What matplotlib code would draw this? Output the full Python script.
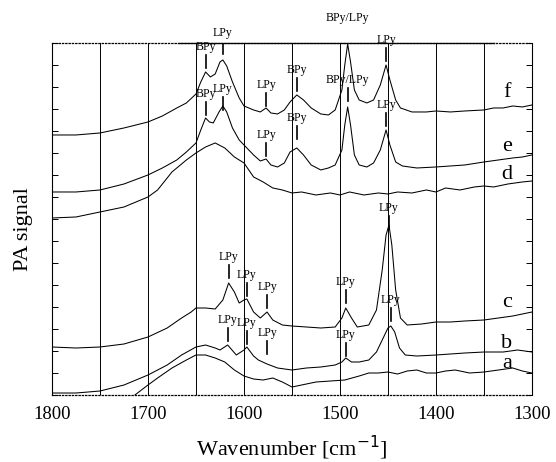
import matplotlib
matplotlib.use("Agg")
import matplotlib.pyplot as plt
import numpy as np

plt.rcParams['font.family'] = ['Liberation Serif', 'DejaVu Serif']

# spectra, wavenumber [cm-1] and PA signal (arbitrary units, offset traces)
wn_f = [1800, 1775, 1750, 1725, 1700, 1685, 1670, 1660, 1650, 1645, 1640, 1635, 1630, 1625, 1622,
        1618, 1612, 1605, 1600, 1590, 1583, 1577, 1572, 1565, 1558, 1552, 1545, 1538, 1530, 1520,
        1512, 1505, 1498, 1495, 1492, 1489, 1485, 1480, 1472, 1465, 1458, 1452, 1448, 1442, 1437,
        1425, 1410, 1400, 1385, 1370, 1350, 1340, 1330, 1320, 1310, 1300]
sig_f = [260, 260, 262, 267, 273, 279, 287, 292, 301, 313, 323, 318, 321, 333, 335,
         329, 313, 297, 289, 285, 283, 287, 282, 281, 285, 293, 300, 295, 287, 281,
         280, 285, 305, 330, 351, 333, 305, 295, 292, 295, 310, 330, 315, 295, 287,
         283, 283, 284, 283, 284, 285, 287, 287, 289, 288, 290]

wn_e = [1800, 1775, 1750, 1725, 1700, 1685, 1670, 1660, 1650, 1645, 1640, 1636, 1632, 1626, 1622,
        1618, 1612, 1605, 1600, 1590, 1583, 1577, 1572, 1565, 1558, 1552, 1545, 1538, 1530, 1520,
        1512, 1505, 1498, 1495, 1492, 1489, 1485, 1480, 1472, 1465, 1458, 1452, 1448, 1442, 1435,
        1420, 1400, 1385, 1370, 1350, 1335, 1320, 1310, 1300]
sig_e = [203, 203, 205, 211, 220, 227, 235, 243, 252, 265, 277, 273, 272, 283, 289,
         283, 267, 255, 250, 240, 234, 236, 230, 228, 232, 243, 247, 240, 230, 225,
         227, 230, 245, 270, 288, 270, 240, 230, 228, 232, 245, 265, 250, 233, 229,
         227, 228, 229, 230, 233, 235, 237, 238, 240]

wn_d = [1800, 1775, 1750, 1725, 1700, 1690, 1675, 1660, 1650, 1640, 1630, 1620, 1610, 1600, 1595,
        1590, 1580, 1570, 1560, 1550, 1540, 1525, 1510, 1500, 1490, 1475, 1460, 1450, 1440, 1425,
        1410, 1400, 1390, 1375, 1360, 1350, 1340, 1325, 1310, 1300]
sig_d = [177, 178, 183, 188, 198, 205, 223, 235, 242, 248, 252, 247, 238, 232, 225,
         218, 213, 207, 205, 202, 203, 200, 202, 200, 203, 200, 202, 201, 203, 202,
         205, 203, 207, 205, 208, 209, 208, 211, 213, 214]

wn_c = [1800, 1775, 1750, 1725, 1700, 1680, 1665, 1655, 1650, 1640, 1630, 1622, 1616, 1610, 1605,
        1600, 1597, 1590, 1583, 1576, 1570, 1560, 1550, 1535, 1520, 1505, 1498, 1494, 1488, 1482,
        1470, 1462, 1456, 1452, 1449, 1446, 1442, 1437, 1430, 1415, 1400, 1385, 1370, 1350, 1335,
        1320, 1310, 1300]
sig_c = [48, 47, 48, 51, 58, 67, 77, 83, 87, 87, 86, 95, 112, 103, 92,
         95, 96, 83, 77, 83, 75, 70, 69, 68, 67, 68, 77, 87, 77, 68,
         70, 85, 125, 160, 170, 150, 105, 77, 70, 71, 73, 73, 74, 75, 77,
         79, 81, 83]

wn_b = [1800, 1775, 1750, 1725, 1700, 1680, 1665, 1650, 1640, 1630, 1625, 1617, 1608, 1600, 1597,
        1590, 1585, 1576, 1565, 1550, 1535, 1520, 1505, 1498, 1494, 1488, 1480, 1470, 1462, 1456,
        1450, 1447, 1443, 1438, 1432, 1420, 1400, 1385, 1370, 1350, 1330, 1315, 1300]
sig_b = [2, 2, 4, 10, 20, 30, 40, 48, 50, 47, 45, 50, 40, 45, 48,
         39, 35, 31, 27, 25, 27, 28, 30, 33, 37, 33, 33, 35, 43, 55,
         67, 69, 63, 47, 40, 39, 40, 41, 42, 43, 43, 45, 43]

wn_a = [1800, 1750, 1715, 1700, 1690, 1675, 1660, 1650, 1640, 1630, 1620, 1610, 1600, 1590, 1580,
        1570, 1560, 1550, 1540, 1525, 1510, 1495, 1480, 1470, 1460, 1450, 1440, 1430, 1420, 1410,
        1400, 1390, 1380, 1365, 1350, 1335, 1320, 1310, 1300]
sig_a = [-3, -3, -1, 10, 17, 27, 35, 40, 40, 37, 33, 25, 19, 16, 15,
         17, 13, 8, 10, 13, 14, 15, 19, 22, 22, 23, 21, 24, 25, 22,
         22, 24, 25, 22, 23, 25, 27, 24, 22]

curve_names = ['f', 'e', 'd', 'c', 'b', 'a']
curve_label_y = [302, 248, 220, 92, 52, 32]

# peak assignments: wavenumber, label, text height
peak_wn = [1640, 1622, 1577, 1545, 1492, 1452,
           1640, 1622, 1577, 1545, 1492, 1452,
           1616, 1597, 1576, 1494, 1449,
           1617, 1597, 1576, 1494, 1447]
peak_txt = ['BPy', 'LPy', 'LPy', 'BPy', 'BPy/LPy', 'LPy',
            'BPy', 'LPy', 'LPy', 'BPy', 'BPy/LPy', 'LPy',
            'LPy', 'LPy', 'LPy', 'LPy', 'LPy',
            'LPy', 'LPy', 'LPy', 'LPy', 'LPy']
peak_h = [348, 362, 310, 325, 377, 355,
          301, 306, 260, 277, 315, 290,
          138, 120, 108, 113, 187,
          75, 72, 62, 60, 95]

fig = plt.figure(figsize=(5.56, 4.62), dpi=100)
ax = fig.add_axes([0.0935, 0.145, 0.8633, 0.762])

for w, s in [(wn_f, sig_f), (wn_e, sig_e), (wn_d, sig_d), (wn_c, sig_c), (wn_b, sig_b), (wn_a, sig_a)]:
    ax.plot(w, s, color='black', lw=0.75)

for x in range(1750, 1300, -50):
    ax.axvline(x, color='black', lw=0.7)

for w, t, h in zip(peak_wn, peak_txt, peak_h):
    ax.text(w, h, t, fontsize=8.5, ha='center', va='center')
    ax.plot([w, w], [h - 8, h - 21], color='black', lw=1.2)

for n, h in zip(curve_names, curve_label_y):
    ax.text(1326, h, n, fontsize=16, ha='center', va='center')

ax.set_xlim(1800, 1300)
ax.set_ylim(0, 352)
ax.set_xticks(np.arange(1800, 1299, -100))
ax.set_yticks(np.arange(0, 353, 22))
ax.set_yticklabels([])
ax.tick_params(axis='x', length=0, labelsize=13.5, pad=8)
ax.tick_params(axis='y', direction='in', length=4, width=0.7, left=True, right=True)

for side in ['left', 'right']:
    ax.spines[side].set_linewidth(0.8)
for side in ['top', 'bottom']:
    ax.spines[side].set_linestyle(':')
    ax.spines[side].set_linewidth(0.9)
ax.axhline(352, xmin=0.262, xmax=0.92, color='black', lw=0.9, clip_on=False)

ax.set_xlabel('Wavenumber [cm$^{-1}$]', fontsize=16, labelpad=8)
ax.set_ylabel('PA signal', fontsize=16)
ax.yaxis.set_label_coords(-0.04, 0.47)

fig.savefig('out.png', dpi=100)
